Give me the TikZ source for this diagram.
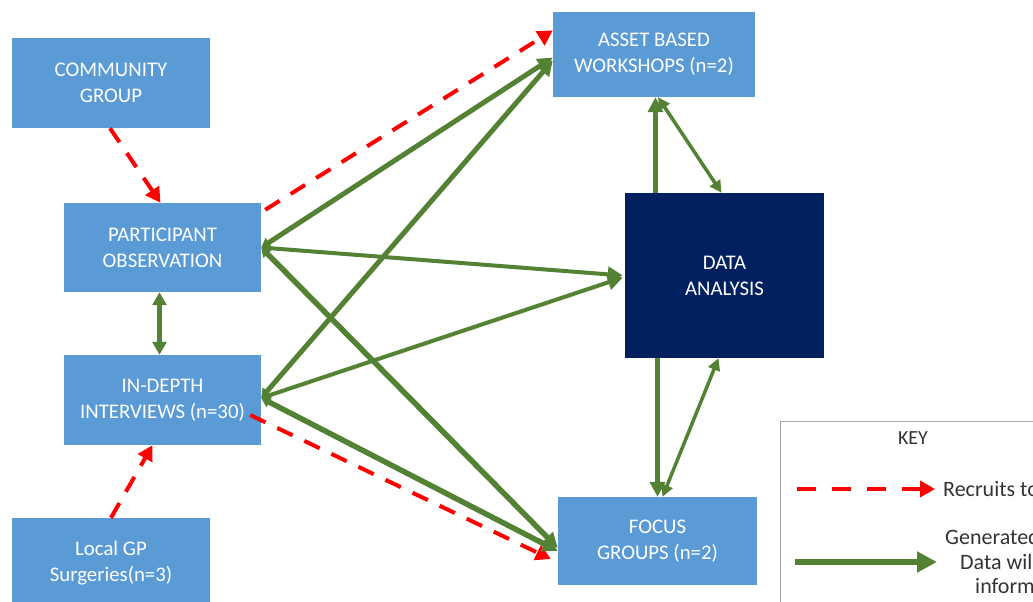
\documentclass[tikz,border=0pt]{standalone}
\usepackage{fontspec}
\setmainfont{Carlito}
\usetikzlibrary{arrows.meta}
\definecolor{boxblue}{HTML}{5B9BD5}
\definecolor{navy}{HTML}{002060}
\definecolor{leaf}{HTML}{548235}
\definecolor{keyline}{HTML}{A6A6A6}
\begin{document}
\begin{tikzpicture}[x=1pt,y=-1pt,
  box/.style={rectangle,fill=boxblue,text=white,align=center,inner sep=0pt,
    font=\fontsize{20.8}{26}\selectfont},
  recruit/.style={draw=red,line width=4pt,dash pattern=on 17pt off 13pt,
    -{Triangle[length=15pt,width=16pt]}},
  gen/.style={draw=leaf,line width=#1,
    -{Triangle[length=15pt,width=15pt]}},
  gen2/.style={draw=leaf,line width=#1,
    {Triangle[length=9pt,width=11pt]}-{Triangle[length=15pt,width=15pt]}},
  keytext/.style={text=black!80,font=\fontsize{22}{26}\selectfont,inner sep=0pt}
]
\useasboundingbox (0,0) rectangle (1033,602);
\clip (0,0) rectangle (1033,602);

% boxes
\node[box,minimum width=198pt,minimum height=90pt] (cg) at (111,83) {COMMUNITY\\GROUP};
\node[box,minimum width=197pt,minimum height=89pt] (po) at (162.5,247.5) {PARTICIPANT\\OBSERVATION};
\node[box,minimum width=197pt,minimum height=90pt] (idi) at (162.5,400) {IN-DEPTH\\INTERVIEWS (n=30)};
\node[box,minimum width=198pt,minimum height=90pt] (gp) at (111,563) {Local GP\\Surgeries(n=3)};
\node[box,minimum width=202pt,minimum height=85pt] (ws) at (654,54.5) {ASSET BASED\\WORKSHOPS (n=2)};
\node[box,fill=navy,minimum width=199pt,minimum height=165pt] (da) at (724.5,275.5) {DATA\\ANALYSIS};
\node[box,minimum width=199pt,minimum height=88pt] (fg) at (657.5,541) {FOCUS\\GROUPS (n=2)};

% recruitment links
\draw[recruit] ([xshift=-1pt]cg.south) -- ([xshift=-2pt]po.north);
\draw[recruit] (gp.north) -- ([xshift=-10pt]idi.south);
\draw[recruit] ([xshift=4pt,yshift=-7pt]po.north east) -- ([yshift=24pt]ws.west);
\draw[recruit] ([xshift=-11pt,yshift=-15pt]idi.east) -- ([xshift=-2pt,yshift=-18pt]ws.west |- fg.west);

% data generated by the fieldwork
\draw[gen2=5pt] (po.east) -- ([yshift=-3pt]ws.west);
\draw[gen2=4pt] (po.east) -- ([xshift=-2pt]da.west);
\draw[gen2=5.5pt] (po.east) -- ([yshift=-7pt]fg.west);
\draw[gen2=5pt] ([yshift=2pt]idi.east) -- ([yshift=-6pt]ws.west);
\draw[gen2=4pt] ([yshift=2pt]idi.east) -- ([xshift=-2pt,yshift=-2pt]da.west);
\draw[gen2=5.5pt] ([yshift=2pt]idi.east) -- ([yshift=-10pt]fg.west);
\draw[leaf,line width=5pt,{Triangle[length=13pt,width=14pt]}-{Triangle[length=13pt,width=14pt]}]
  ([xshift=-3pt]po.south) -- ([xshift=-3pt]idi.north);

% links with the analysis
\draw[gen=5pt] ([xshift=-69pt]da.north) -- ([xshift=1.5pt]ws.south);
\draw[leaf,line width=3.5pt,{Triangle[length=12pt,width=12pt]}-{Triangle[length=12pt,width=12pt]}]
  ([xshift=4pt]ws.south) -- ([xshift=-3pt]da.north);
\draw[gen=5pt] ([xshift=-67pt]da.south) -- (fg.north);
\draw[leaf,line width=3.5pt,{Triangle[length=12pt,width=12pt]}-{Triangle[length=12pt,width=12pt]}]
  ([xshift=5pt]fg.north) -- ([xshift=-6pt]da.south);

% key
\node[draw=keyline,line width=1pt,minimum width=260pt,minimum height=190pt,anchor=north west,inner sep=0pt] (key) at (780,421) {};
\node[keytext,anchor=center,font=\fontsize{20}{24}\selectfont] (keyhead) at (913,438) {KEY};
\coordinate (rs) at (797,489);
\coordinate (re) at (935,489);
\draw[recruit,dash pattern=on 19pt off 16pt] (rs) -- (re);
\node[keytext,anchor=west] (rtext) at (943,489) {Recruits to};
\coordinate (gs) at (795,562);
\coordinate (ge) at (937,562);
\draw[leaf,line width=6pt,-{Triangle[length=20pt,width=20pt]}] (gs) -- (ge);
\node[keytext,anchor=west] (gt1) at (945,537) {Generated};
\node[keytext,anchor=west] (gt2) at (960,562) {Data will};
\node[keytext,anchor=west] (gt3) at (975,586) {inform};
\end{tikzpicture}
\end{document}
